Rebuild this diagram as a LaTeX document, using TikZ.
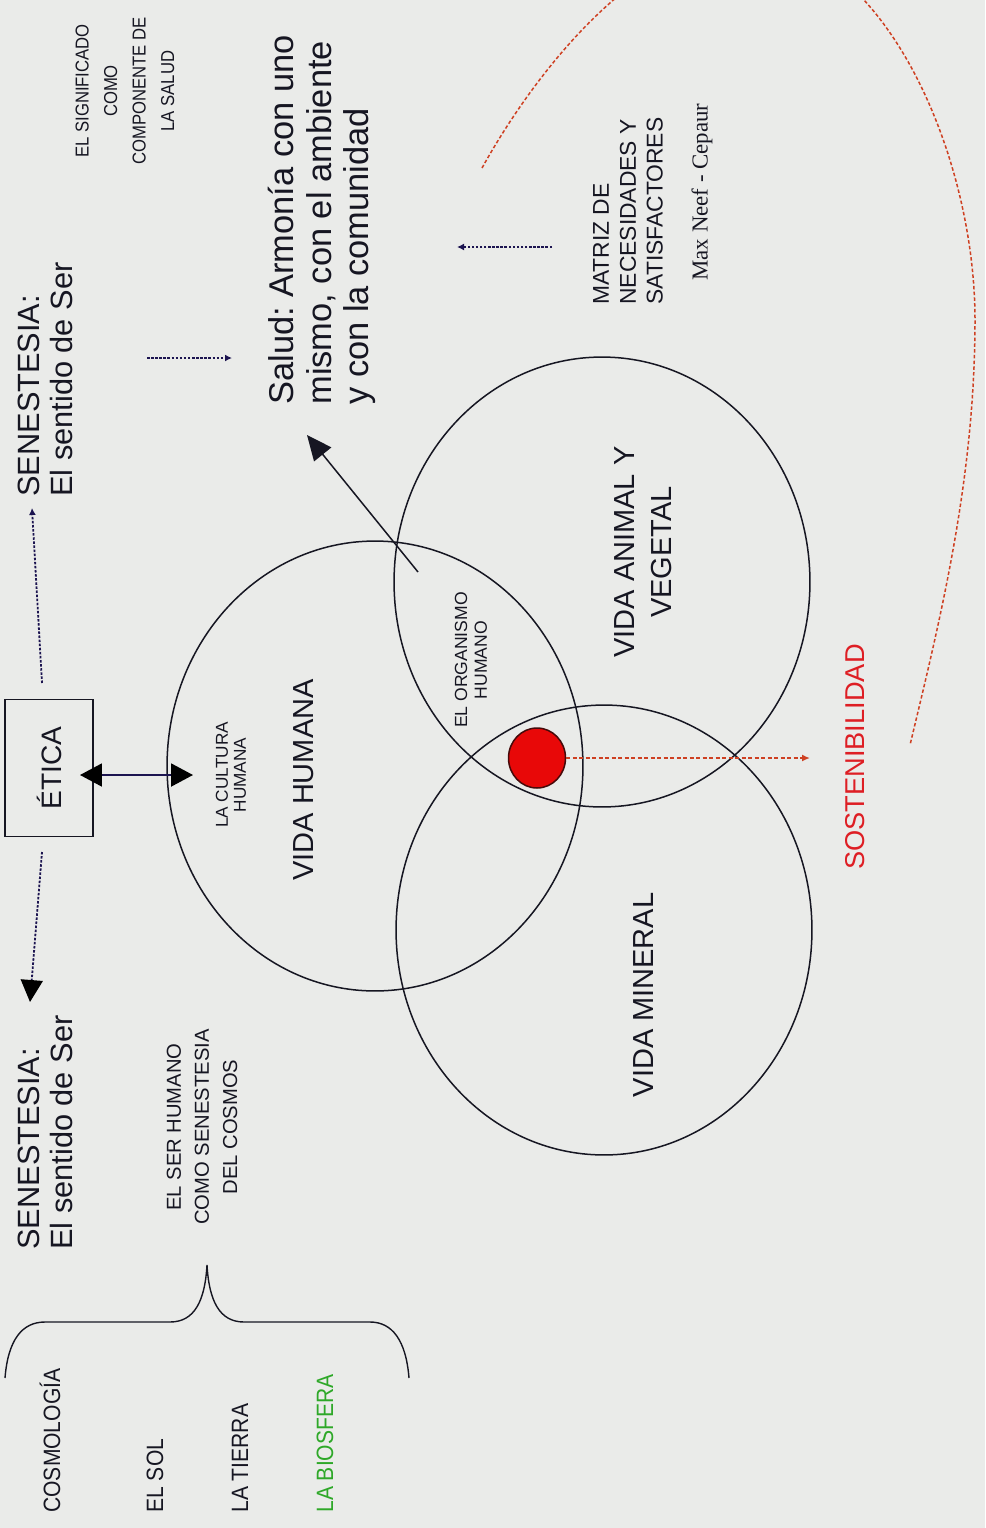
\documentclass[tikz,border=0pt]{standalone}
\usepackage{fontspec}
\setmainfont{Liberation Sans}
\newfontfamily\serifnf{Liberation Serif}
\usetikzlibrary{arrows.meta,shapes.geometric}
\definecolor{paper}{RGB}{234,235,233}
\definecolor{ink}{RGB}{22,22,34}
\definecolor{navy}{RGB}{28,20,80}
\definecolor{dotred}{RGB}{232,8,8}
\definecolor{dotedge}{RGB}{70,10,10}
\definecolor{trail}{RGB}{206,64,34}
\definecolor{sostred}{RGB}{222,30,36}
\definecolor{bioverde}{RGB}{46,168,40}
\newcommand{\setfs}[2]{\fontsize{#1pt}{#2pt}\selectfont}
\frenchspacing
\begin{document}
\begin{tikzpicture}[x=0.02cm,y=-0.02cm,
  lbl/.style={rotate=90, inner sep=0pt, text=ink},
  tall/.style={yscale=1.12},
  orb/.style={draw=ink, ellipse, line width=0.03cm, minimum width=8.32cm,
              minimum height=9cm, inner sep=0pt},
  dots/.style={draw=navy, line width=0.036cm, dash pattern=on 0.05cm off 0.032cm},
  smalltip/.style={-{Latex[length=0.14cm,width=0.14cm]}},
  bigtip/.style={-{Triangle[length=0.44cm,width=0.44cm,color=black]}}]

% paper
\fill[paper] (0,0) rectangle (985,1528);
\useasboundingbox (0,0) rectangle (985,1528);

% the three spheres of life
\node[orb] (humana)  at (375,766) {};
\node[orb] (animal)  at (602,582) {};
\node[orb] (mineral) at (604,930) {};

% the common centre and its projection
\node[ellipse, draw=dotedge, fill=dotred, line width=0.03cm, minimum width=1.14cm,
      minimum height=1.2cm, inner sep=0pt] (nucleo) at (537,758) {};
\coordinate (sostTip) at (810,758);
\draw[trail, line width=0.04cm, dash pattern=on 0.08cm off 0.05cm,
      -{Latex[length=0.16cm,width=0.14cm]}] (nucleo.east) -- (sostTip);

% arrow out of the lens towards health
\coordinate (lens) at (418,572);
\coordinate (saludTip) at (307,435);
\draw[ink, line width=0.03cm, -{Triangle[length=0.5cm,width=0.44cm]}] (lens) -- (saludTip);

% long trail of sustainability
\begin{scope}
  \clip (0,0) rectangle (985,1528);
  \draw[trail, line width=0.03cm, dash pattern=on 0.07cm off 0.045cm]
    (482,168) .. controls (542,60) and (645,-60) .. (745,-60)
              .. controls (880,-60) and (975,150) .. (975,320)
              .. controls (975,480) and (940,620) .. (910,745);
\end{scope}

% ethics box
\node[draw=ink, rotate=90, minimum width=2.74cm, minimum height=1.76cm, inner sep=0pt,
      line width=0.03cm, text=ink, font=\setfs{16}{18}] (etica) at (49,768) {ÉTICA};
\coordinate (eticaIn) at (80,775);
\coordinate (culturaEdge) at (193,775);
\draw[navy, line width=0.04cm,
      {Triangle[length=0.44cm,width=0.46cm,color=black]}-{Triangle[length=0.44cm,width=0.46cm,color=black]}]
      (eticaIn) -- (culturaEdge);

% senestesia
\node[lbl, anchor=west, align=left, font=\setfs{17.5}{18.7}] (senTop) at (45,497)
  {SENESTESIA:\\El sentido de Ser};
\node[lbl, anchor=west, align=left, font=\setfs{17.5}{18.7}] (senBot) at (45,1250)
  {SENESTESIA:\\El sentido de Ser};
\coordinate (eticaUp) at (42,683);
\coordinate (senTopTip) at (32,508);
\draw[dots, smalltip] (eticaUp) -- (senTopTip);
\coordinate (eticaDown) at (42,852);
\coordinate (senBotTip) at (30,1002);
\draw[dots, bigtip] (eticaDown) -- (senBotTip);

% health
\node[lbl, tall, align=center, font=\setfs{9.5}{14.5}] (signif) at (125,91)
  {EL SIGNIFICADO\\COMO\\COMPONENTE DE\\LA SALUD};
\node[lbl, anchor=west, align=left, font=\setfs{19.6}{21.5}] (salud) at (322,405)
  {Salud: Armonía con uno\\mismo, con el ambiente\\y con la comunidad};
\coordinate (senArrowA) at (147,358);
\coordinate (senArrowB) at (232,358);
\draw[dots, smalltip] (senArrowA) -- (senArrowB);

% needs matrix
\node[lbl, anchor=west, align=left, font=\setfs{13}{15.3}] (matriz) at (628,305)
  {MATRIZ DE\\NECESIDADES Y\\SATISFACTORES};
\node[lbl, font=\serifnf\setfs{13}{15}] (maxneef) at (702,192) {Max Neef - Cepaur};
\coordinate (matrizArrowA) at (552,247);
\coordinate (matrizArrowB) at (457,247);
\draw[dots, smalltip] (matrizArrowA) -- (matrizArrowB);

% cosmos
\node[lbl, align=center, font=\setfs{11.5}{16}] (serhum) at (202,1127)
  {EL SER HUMANO\\COMO SENESTESIA\\DEL COSMOS};
\draw[ink, line width=0.028cm]
  (5,1378) .. controls (8,1340) and (22,1322) .. (45,1322) -- (170,1322)
  .. controls (195,1322) and (205,1300) .. (207,1265)
  .. controls (209,1300) and (219,1322) .. (244,1322) -- (370,1322)
  .. controls (392,1322) and (406,1340) .. (409,1378);
\node[lbl, tall, anchor=base west, font=\setfs{12}{14}] (cosmo)  at (60,1513)  {COSMOLOGÍA};
\node[lbl, tall, anchor=base west, font=\setfs{12}{14}] (sol)    at (163,1513) {EL SOL};
\node[lbl, tall, anchor=base west, font=\setfs{12}{14}] (tierra) at (248,1513) {LA TIERRA};
\node[lbl, tall, anchor=base west, font=\setfs{12}{14}, text=bioverde] (biosfera) at (333,1513) {LA BIOSFERA};

% labels inside the spheres
\node[lbl, align=center, font=\setfs{9.8}{10.2}] (cultura) at (231,775) {LA CULTURA\\HUMANA};
\node[lbl, font=\setfs{16.5}{18}] (vhum) at (304,780) {VIDA HUMANA};
\node[lbl, align=center, font=\setfs{10}{11.3}] (organismo) at (471,660) {EL ORGANISMO\\HUMANO};
\node[lbl, align=center, font=\setfs{16.5}{21}] (vanim) at (643,552) {VIDA ANIMAL Y\\VEGETAL};
\node[lbl, font=\setfs{16.5}{18}] (vmin) at (644,995) {VIDA MINERAL};
\node[lbl, text=sostred, font=\setfs{15.5}{17}] (sost) at (855,757) {SOSTENIBILIDAD};
\end{tikzpicture}
\end{document}
